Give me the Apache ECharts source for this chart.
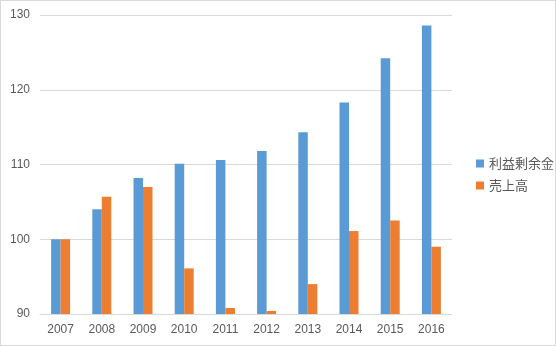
<!DOCTYPE html>
<html><head><meta charset="utf-8">
<script src="https://cdn.jsdelivr.net/npm/echarts@6/dist/echarts.min.js"></script>
<style>html,body{margin:0;padding:0;background:#fff}#c{width:556px;height:346px;box-sizing:border-box;border:1px solid #d9d9d9}</style>
</head><body><div id="c"></div>
<script>
const categories = ['2007','2008','2009','2010','2011','2012','2013','2014','2015','2016'];
const retainedEarnings = [100.0,104.0,108.2,110.1,110.6,111.8,114.3,118.3,124.2,128.6];
const sales = [100.0,105.7,107.0,96.1,90.8,90.4,94.0,101.1,102.5,99.0];
const seriesNames = ['利益剰余金','売上高'];

const chart = echarts.init(document.getElementById('c'));
const font = '"Noto Sans CJK JP", "Noto Sans", sans-serif';
chart.setOption({
  animation:false,
  textStyle:{fontFamily:font},
  grid:{left:39,right:103,top:14,bottom:31,containLabel:false},
  legend:{orient:'vertical',left:470,top:151,itemWidth:8,itemHeight:8,itemGap:9,icon:'rect',
    textStyle:{fontSize:13,color:'#595959',fontFamily:font},data:seriesNames},
  xAxis:{type:'category',data:categories,
    axisLine:{lineStyle:{color:'#d9d9d9'}},axisTick:{show:false},
    axisLabel:{color:'#595959',fontSize:12,margin:10,fontFamily:'"Liberation Sans", Arial, sans-serif'}},
  yAxis:{type:'value',min:90,max:130,interval:10,
    axisLine:{show:false},axisTick:{show:false},
    splitLine:{lineStyle:{color:'#d9d9d9'}},
    axisLabel:{color:'#595959',fontSize:12,margin:10,fontFamily:'"Liberation Sans", Arial, sans-serif'}},
  series:[
    {name:seriesNames[0],type:'bar',data:retainedEarnings,barWidth:9.5,barGap:'0%',itemStyle:{color:'#5b9bd5'}},
    {name:seriesNames[1],type:'bar',data:sales,barWidth:9.5,barGap:'0%',itemStyle:{color:'#ed7d31'}}
  ]
});
</script></body></html>
